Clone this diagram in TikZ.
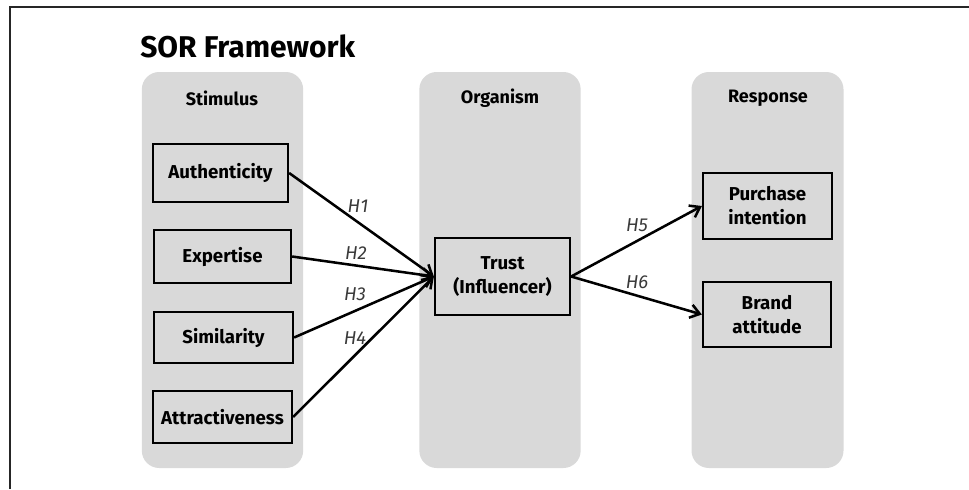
\documentclass[tikz,border=0pt]{standalone}
\usepackage{fontspec}
\setmainfont{Fira Sans}
\usetikzlibrary{arrows.meta}
\definecolor{colgray}{HTML}{D9D9D9}
\definecolor{framegray}{HTML}{262626}
\definecolor{hgray}{HTML}{3A3A3A}
\tikzset{
  column/.style={fill=colgray, rounded corners=13pt, inner sep=0pt, minimum width=121pt, minimum height=297pt},
  header/.style={font=\bfseries\fontsize{13.5pt}{16pt}\selectfont, inner sep=0pt},
  varbox/.style={draw=black, fill=colgray, line width=1.7pt, inner sep=0pt, align=center,
    font=\bfseries\fontsize{14pt}{18pt}\selectfont},
  link/.style={line width=1.9pt, -{Straight Barb[length=7pt, width=10pt, line width=1.9pt]}},
  hlab/.style={font=\itshape\fontsize{14pt}{16pt}\selectfont, text=hgray, inner sep=0pt}
}
\begin{document}
\begin{tikzpicture}[x=0.75pt, y=-0.75pt]
\useasboundingbox (0,0) rectangle (969,489);
\draw[framegray, line width=1.6pt] (10,489) -- (10,7) -- (969,7);
\node[anchor=west, inner sep=0pt, font=\bfseries\fontsize{22.5pt}{26pt}\selectfont] (title) at (140,46) {SOR Framework};
% columns
\node[column] (colS) at (222.5,270) {};
\node[column] (colO) at (500,270) {};
\node[column, minimum width=114pt] (colR) at (767.5,270) {};
\node[header] (hS) at (222,98) {Stimulus};
\node[header] (hO) at (500,98) {Organism};
\node[header] (hR) at (768,98) {Response};
% boxes
\node[varbox, minimum width=101.25pt, minimum height=43.5pt] (auth) at (220.5,173) {Authenticity};
\node[varbox, minimum width=102.75pt, minimum height=39.75pt] (exp) at (222.5,256.5) {Expertise};
\node[varbox, minimum width=104.25pt, minimum height=38.25pt] (sim) at (223.5,337.5) {Similarity};
\node[varbox, minimum width=104.25pt, minimum height=39pt] (attr) at (222.5,417) {Attractiveness};
\node[varbox, minimum width=101.25pt, minimum height=57.75pt] (trust) at (502.5,276.5) {Trust\\(Influencer)};
\node[varbox, minimum width=96.75pt, minimum height=49.5pt] (pi) at (767.5,206) {Purchase\\intention};
\node[varbox, minimum width=96pt, minimum height=48.75pt] (ba) at (767,314.5) {Brand\\attitude};
% links
\draw[link] (auth.east) -- (trust.west);
\draw[link] (exp.east) -- (trust.west);
\draw[link] (sim.east) -- (trust.west);
\draw[link] (attr.east) -- (trust.west);
\draw[link] (trust.east) -- (pi.west);
\draw[link] (trust.east) -- (ba.west);
% labels
\node[hlab] (h1) at (358,206) {H1};
\node[hlab] (h2) at (356,253) {H2};
\node[hlab] (h3) at (355,294) {H3};
\node[hlab] (h4) at (355,338) {H4};
\node[hlab] (h5) at (637,225) {H5};
\node[hlab] (h6) at (637,282) {H6};
\end{tikzpicture}
\end{document}
